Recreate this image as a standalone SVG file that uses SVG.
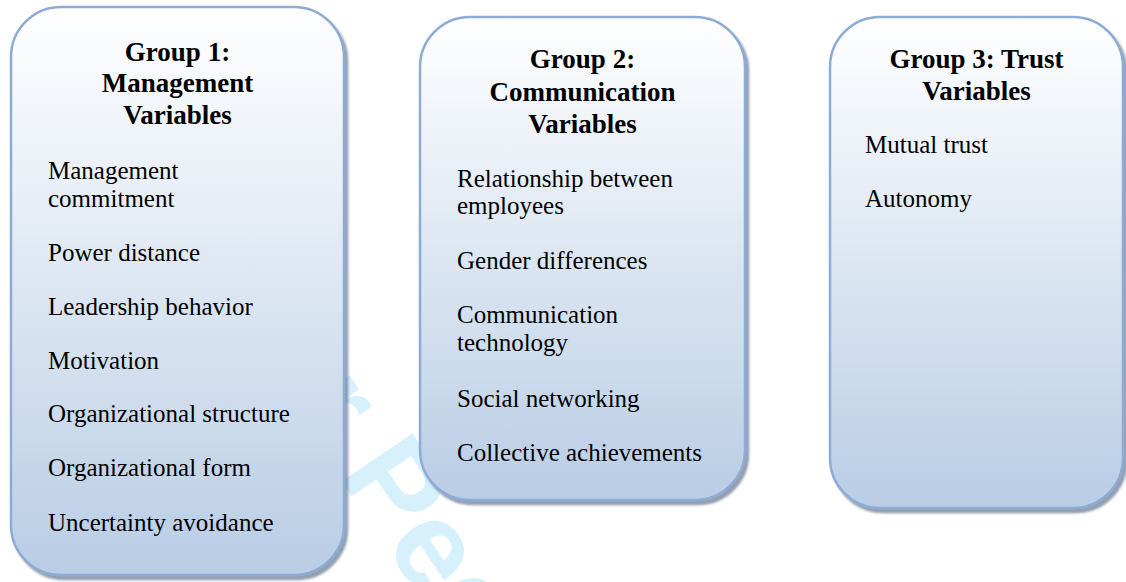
<svg xmlns="http://www.w3.org/2000/svg" width="1126" height="582" viewBox="0 0 1126 582">
<defs>
<linearGradient id="fillGrad" x1="0" y1="0" x2="0" y2="1">
<stop offset="0" stop-color="#ffffff"/>
<stop offset="1" stop-color="#b9cde5"/>
</linearGradient>
<filter id="shadow" x="-10%" y="-10%" width="120%" height="120%">
<feDropShadow dx="3" dy="4" stdDeviation="1" flood-color="#4d5f7d" flood-opacity="0.6"/>
</filter>
</defs>
<style>
.box{fill:url(#fillGrad);stroke:#8cacd6;stroke-width:2.5;filter:url(#shadow);}
.title{font-family:"Liberation Serif","Times New Roman",serif;font-weight:bold;font-size:27px;fill:#000;text-anchor:middle;}
.item{font-family:"Liberation Serif","Times New Roman",serif;font-size:25px;fill:#000;}
.wm{font-family:"Liberation Sans",Arial,sans-serif;font-weight:bold;font-size:124px;fill:#d6f0fc;}
</style>
<rect width="1126" height="582" fill="#ffffff"/>
<g id="watermark">
<text class="wm" transform="translate(206,280) rotate(56)" x="0" y="0">For Peer Review</text>
</g>
<g id="connectors"></g>
<g id="group1">
<rect class="box" x="11" y="7" width="333" height="568" rx="50" ry="50"/>
<text class="title" x="177.5" y="61">Group 1:</text>
<text class="title" x="177.5" y="92">Management</text>
<text class="title" x="177.5" y="124">Variables</text>
<text class="item" x="48" y="179">Management</text>
<text class="item" x="48" y="207">commitment</text>
<text class="item" x="48" y="261">Power distance</text>
<text class="item" x="48" y="315">Leadership behavior</text>
<text class="item" x="48" y="369">Motivation</text>
<text class="item" x="48" y="422">Organizational structure</text>
<text class="item" x="48" y="476">Organizational form</text>
<text class="item" x="48" y="531">Uncertainty avoidance</text>
</g>
<g id="group2">
<rect class="box" x="420" y="17" width="325" height="483" rx="50" ry="50"/>
<text class="title" x="582.5" y="68">Group 2:</text>
<text class="title" x="582.5" y="101">Communication</text>
<text class="title" x="582.5" y="133">Variables</text>
<text class="item" x="457" y="187">Relationship between</text>
<text class="item" x="457" y="214">employees</text>
<text class="item" x="457" y="269">Gender differences</text>
<text class="item" x="457" y="323">Communication</text>
<text class="item" x="457" y="351">technology</text>
<text class="item" x="457" y="407">Social networking</text>
<text class="item" x="457" y="461">Collective achievements</text>
</g>
<g id="group3">
<rect class="box" x="830" y="17" width="293" height="491" rx="50" ry="50"/>
<text class="title" x="976.5" y="68">Group 3: Trust</text>
<text class="title" x="976.5" y="100">Variables</text>
<text class="item" x="865" y="153">Mutual trust</text>
<text class="item" x="865" y="207">Autonomy</text>
</g>
</svg>
